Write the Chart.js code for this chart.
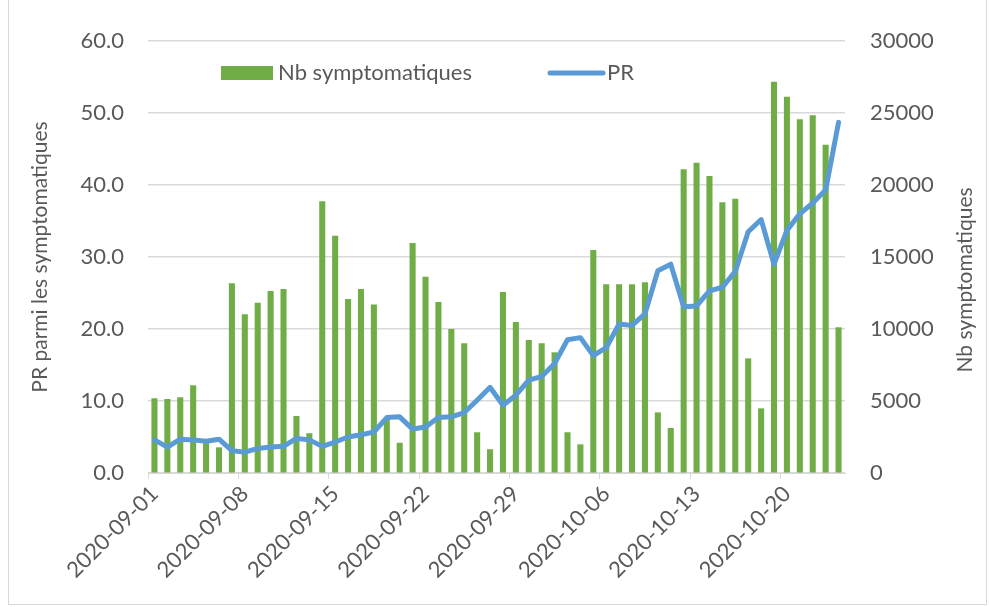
<!DOCTYPE html>
<html>
<head>
<meta charset="utf-8">
<script src="https://cdn.jsdelivr.net/npm/chart.js@4.4.0/dist/chart.umd.min.js"></script>
<style>
  body { margin: 0; background: #fff; }
  #wrap { position: relative; width: 990px; height: 607px; }
  #frame { position: absolute; left: 8px; top: -1px; width: 979px; height: 606px; border: 1px solid #d9d9d9; box-sizing: border-box; pointer-events: none; }
</style>
</head>
<body>
<div id="wrap">
  <canvas id="chart" width="990" height="607"></canvas>
  <div id="frame"></div>
</div>
<script>
const dates = [
  "2020-09-01","2020-09-02","2020-09-03","2020-09-04","2020-09-05","2020-09-06","2020-09-07",
  "2020-09-08","2020-09-09","2020-09-10","2020-09-11","2020-09-12","2020-09-13","2020-09-14",
  "2020-09-15","2020-09-16","2020-09-17","2020-09-18","2020-09-19","2020-09-20","2020-09-21",
  "2020-09-22","2020-09-23","2020-09-24","2020-09-25","2020-09-26","2020-09-27","2020-09-28",
  "2020-09-29","2020-09-30","2020-10-01","2020-10-02","2020-10-03","2020-10-04","2020-10-05",
  "2020-10-06","2020-10-07","2020-10-08","2020-10-09","2020-10-10","2020-10-11","2020-10-12",
  "2020-10-13","2020-10-14","2020-10-15","2020-10-16","2020-10-17","2020-10-18","2020-10-19",
  "2020-10-20","2020-10-21","2020-10-22","2020-10-23","2020-10-24"
];

// Nb symptomatiques (right axis)
const nbSympto = [
  5190, 5140, 5260, 6090, 2200, 1780, 13170,
  11020, 11830, 12640, 12780, 3960, 2760, 18870,
  16480, 12080, 12780, 11710, 3800, 2100, 15970,
  13630, 11880, 10000, 9010, 2830, 1650, 12570,
  10490, 9240, 9010, 8380, 2830, 1990, 15490,
  13100, 13100, 13100, 13240, 4210, 3130, 21090,
  21550, 20630, 18800, 19050, 7960, 4490, 27170,
  26130, 24560, 24840, 22800, 10120
];

// PR parmi les symptomatiques (left axis)
const prValues = [
  4.6, 3.6, 4.7, 4.6, 4.4, 4.7, 3.1,
  2.9, 3.4, 3.6, 3.7, 4.8, 4.6, 3.7,
  4.3, 5.0, 5.3, 5.7, 7.7, 7.8, 6.1,
  6.4, 7.7, 7.8, 8.4, 10.1, 11.9, 9.4,
  10.8, 12.9, 13.4, 15.2, 18.5, 18.8, 16.3,
  17.4, 20.7, 20.5, 22.1, 28.1, 29.0, 23.1,
  23.2, 25.3, 25.8, 28.0, 33.5, 35.2, 29.0,
  33.7, 36.0, 37.5, 39.3, 48.7
];

const leftTicks = [0, 10, 20, 30, 40, 50, 60];
const rightTicks = [0, 5000, 10000, 15000, 20000, 25000, 30000];

const GREEN = '#70AD47';
const BLUE = '#5B9BD5';
const TEXT = '#595959';
const GRID = '#d9d9d9';
const FONT = 'Lato, "Open Sans", sans-serif';

// legend + axis titles drawn by hand, Excel style
const excelDecor = {
  id: 'excelDecor',
  afterDraw(chart) {
    const c = chart.ctx;
    c.save();
    c.font = '22px ' + FONT;
    c.fillStyle = TEXT;
    c.textBaseline = 'middle';

    // legend
    const ly = 73;
    c.fillStyle = GREEN;
    c.fillRect(221, 66, 52, 14);
    c.fillStyle = TEXT;
    c.textAlign = 'left';
    c.fillText(chart.data.datasets[0].label, 278, ly);

    c.strokeStyle = BLUE;
    c.lineWidth = 5;
    c.lineCap = 'round';
    c.beginPath();
    c.moveTo(550, ly);
    c.lineTo(603, ly);
    c.stroke();
    c.fillText(chart.data.datasets[1].label, 607, ly);

    // axis titles
    c.font = '21px ' + FONT;
    c.textAlign = 'center';
    c.save();
    c.translate(40, 257);
    c.rotate(-Math.PI / 2);
    c.fillText('PR parmi les symptomatiques', 0, 0);
    c.restore();

    c.save();
    c.translate(965, 280);
    c.rotate(-Math.PI / 2);
    c.fillText('Nb symptomatiques', 0, 0);
    c.restore();

    c.restore();
  }
};

const ctx = document.getElementById('chart').getContext('2d');
new Chart(ctx, {
  data: {
    labels: dates,
    datasets: [
      {
        type: 'bar',
        label: 'Nb symptomatiques',
        data: nbSympto,
        yAxisID: 'y1',
        backgroundColor: GREEN,
        categoryPercentage: 1,
        barPercentage: 0.47,
        order: 2
      },
      {
        type: 'line',
        label: 'PR',
        data: prValues,
        yAxisID: 'y',
        borderColor: BLUE,
        borderWidth: 5,
        pointRadius: 0,
        tension: 0,
        borderJoinStyle: 'round',
        borderCapStyle: 'round',
        order: 1
      }
    ]
  },
  options: {
    responsive: false,
    animation: false,
    layout: { padding: { top: 41, left: 38, right: 45, bottom: 4 } },
    plugins: {
      legend: { display: false },
      tooltip: { enabled: false }
    },
    scales: {
      x: {
        offset: true,
        grid: {
          offset: true,
          drawOnChartArea: false,
          tickLength: 6,
          color: c => (c.index !== undefined && c.index % 7 === 0) ? GRID : 'rgba(0,0,0,0)'
        },
        border: { color: GRID, width: 1 },
        ticks: {
          autoSkip: false,
          minRotation: 45,
          maxRotation: 45,
          padding: 2,
          color: TEXT,
          font: { family: FONT, size: 22 },
          callback: (v, i) => i % 7 === 0 ? dates[i] : ''
        },
        afterFit: s => { s.height = 130; }
      },
      y: {
        position: 'left',
        min: leftTicks[0],
        max: leftTicks[leftTicks.length - 1],
        afterBuildTicks: s => { s.ticks = leftTicks.map(v => ({ value: v })); },
        grid: { color: GRID, lineWidth: 1.5, drawTicks: false },
        border: { display: false },
        ticks: {
          padding: 24,
          color: TEXT,
          font: { family: FONT, size: 22 },
          callback: v => v.toFixed(1)
        },
        afterFit: s => { s.width = 110; }
      },
      y1: {
        position: 'right',
        min: rightTicks[0],
        max: rightTicks[rightTicks.length - 1],
        afterBuildTicks: s => { s.ticks = rightTicks.map(v => ({ value: v })); },
        grid: { drawOnChartArea: false, drawTicks: false },
        border: { display: false },
        ticks: {
          padding: 25,
          color: TEXT,
          font: { family: FONT, size: 22 },
          callback: v => String(v)
        },
        afterFit: s => { s.width = 100; }
      }
    }
  },
  plugins: [excelDecor]
});
</script>
</body>
</html>
